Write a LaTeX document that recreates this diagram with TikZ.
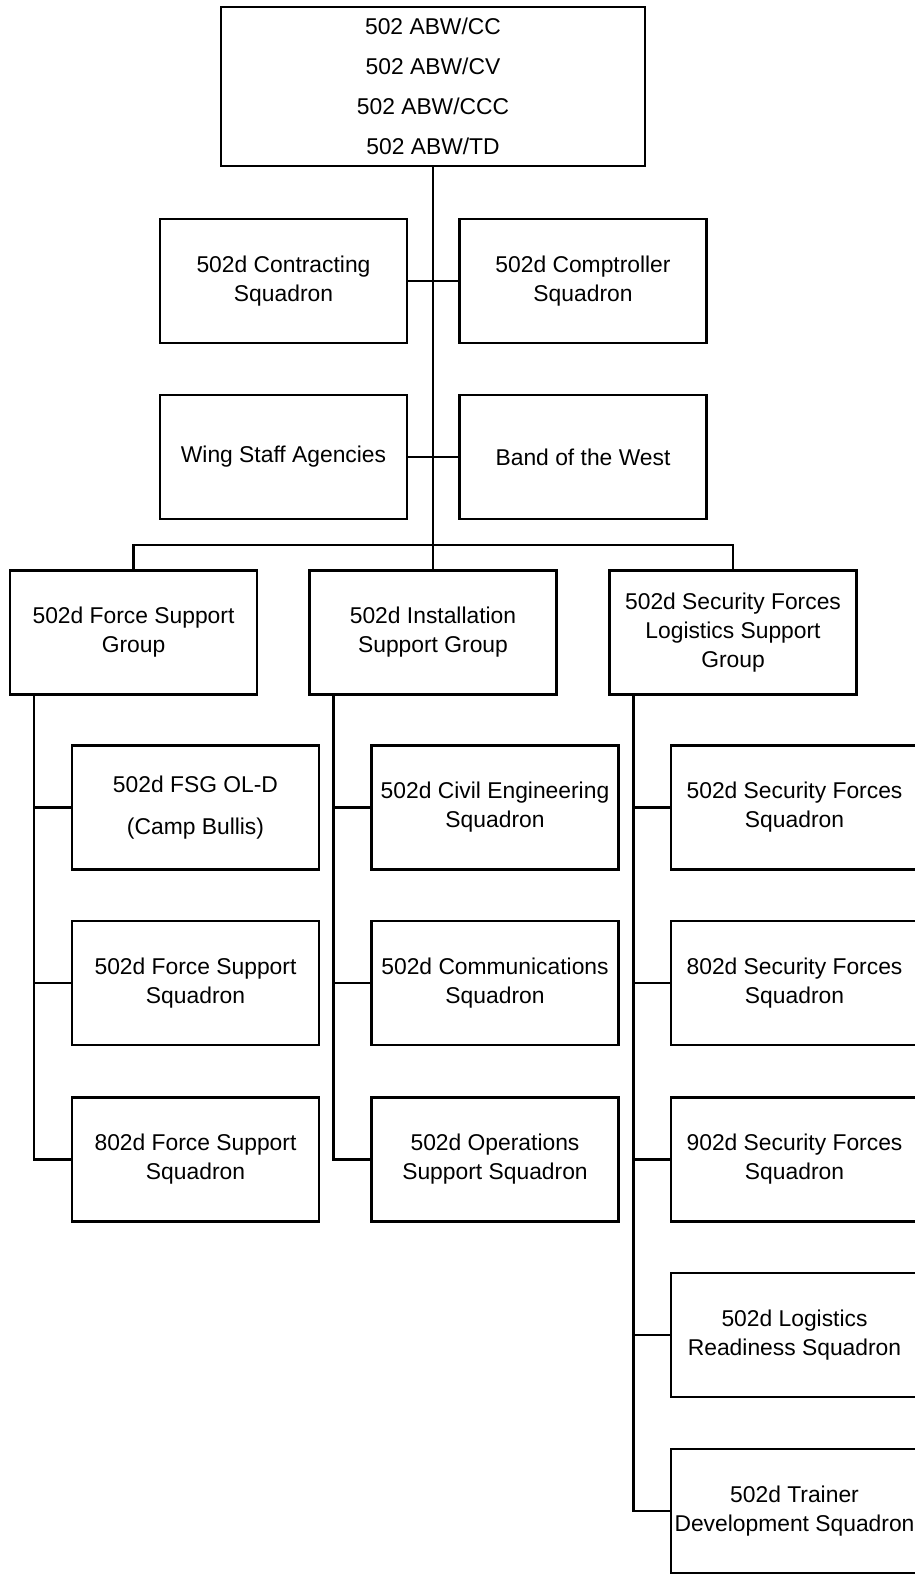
\documentclass[tikz,border=0pt]{standalone}
\usepackage{fontspec}
\setmainfont{Liberation Sans}
\usepackage{tikz}

\tikzset{
  unit/.style={draw, line width=1.2pt, minimum width=4.94cm, minimum height=2.48cm,
    align=center, inner sep=2pt, font=\fontsize{13}{16.5}\selectfont},
  link/.style={line width=1.2pt}
}

\begin{document}
\begin{tikzpicture}[x=0.02cm,y=-0.02cm]

\useasboundingbox (0,0) rectangle (915,1574);

% Wing command
\node[unit, minimum width=8.48cm, minimum height=3.18cm,
  font=\fontsize{13}{22.7}\selectfont] (wing) at (433,86.5)
  {502 ABW/CC\\502 ABW/CV\\502 ABW/CCC\\502 ABW/TD};

% Wing staff
\node[unit] (contr) at (283.5,281) {502d Contracting\\Squadron};
\node[unit] (compt) at (583,281) {502d Comptroller\\Squadron};
\node[unit] (wsa) at (283.5,457) {Wing Staff Agencies};
\node[unit] (band) at (583,457) {Band of the West};

% Groups
\node[unit] (fsg) at (133.5,632.5) {502d Force Support\\Group};
\node[unit] (isg) at (433,632.5) {502d Installation\\Support Group};
\node[unit] (sfg) at (733,632.5) {502d Security Forces\\Logistics Support\\Group};

% Force Support Group squadrons
\node[unit, font=\fontsize{13}{23.8}\selectfont] (fsgA) at (195.5,807.5) {502d FSG OL-D\\(Camp Bullis)};
\node[unit] (fsgB) at (195.5,983) {502d Force Support\\Squadron};
\node[unit] (fsgC) at (195.5,1159.5) {802d Force Support\\Squadron};

% Installation Support Group squadrons
\node[unit] (isgA) at (495,807.5) {502d Civil Engineering\\Squadron};
\node[unit] (isgB) at (495,983) {502d Communications\\Squadron};
\node[unit] (isgC) at (495,1159.5) {502d Operations\\Support Squadron};

% Security Forces Logistics Support Group squadrons
\node[unit] (sfgA) at (794.5,807.5) {502d Security Forces\\Squadron};
\node[unit] (sfgB) at (794.5,983) {802d Security Forces\\Squadron};
\node[unit] (sfgC) at (794.5,1159.5) {902d Security Forces\\Squadron};
\node[unit] (sfgD) at (794.5,1335) {502d Logistics\\Readiness Squadron};
\node[unit] (sfgE) at (794.5,1511) {502d Trainer\\Development Squadron};

% connectors
\coordinate (bus) at (433,545);
\draw[link] (wing.south) -- (isg.north);
\draw[link] (contr.east) -- (compt.west);
\draw[link] (wsa.east) -- (band.west);
\draw[link] (fsg.north) |- (bus) -| (sfg.north);

\foreach \c in {fsgA,fsgB,fsgC}
  \draw[link] ([xshift=0.5cm]fsg.south west) |- (\c.west);
\foreach \c in {isgA,isgB,isgC}
  \draw[link] ([xshift=0.5cm]isg.south west) |- (\c.west);
\foreach \c in {sfgA,sfgB,sfgC,sfgD,sfgE}
  \draw[link] ([xshift=0.5cm]sfg.south west) |- (\c.west);

\end{tikzpicture}
\end{document}
